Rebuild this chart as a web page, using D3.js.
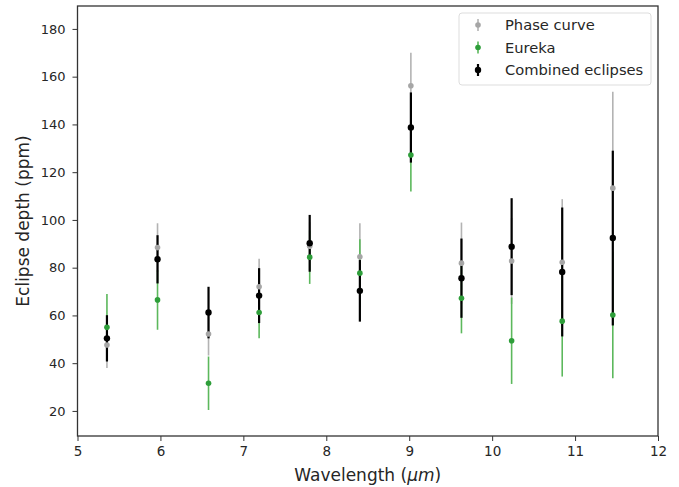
<!DOCTYPE html>
<html>
<head>
<meta charset="utf-8">
<script src="https://cdn.jsdelivr.net/npm/d3@7"></script>
<style>
  body { margin: 0; background: #fff; }
  text { font-family: "DejaVu Sans", sans-serif; fill: #262626; }
</style>
</head>
<body>
<svg class="chart" width="679" height="487"></svg>
<script>
// wavelengths (um)
const wavelength = [5.355, 5.965, 6.58, 7.19, 7.80, 8.405, 9.02, 9.63, 10.235, 10.845, 11.455];

// phase curve
const phaseVal = [47.6, 88.4, 52.2, 72.0, 89.0, 84.6, 156.2, 81.9, 82.8, 82.3, 113.3];
const phaseErr = [9.6, 10.2, 9.0, 11.7, 10.0, 14.0, 13.8, 17.0, 18.0, 26.4, 40.4];

// Eureka
const eurekaVal = [55.0, 66.5, 31.6, 61.2, 84.4, 77.7, 127.2, 67.2, 49.4, 57.6, 60.2];
const eurekaErr = [14.0, 12.5, 11.2, 10.8, 11.2, 14.2, 15.3, 14.7, 18.1, 23.2, 26.5];

// combined eclipses
const combVal = [50.4, 83.5, 61.2, 68.3, 90.2, 70.3, 138.7, 75.6, 88.8, 78.2, 92.4];
const combErr = [9.7, 10.1, 10.8, 11.5, 11.9, 12.9, 14.7, 16.6, 20.3, 27.0, 36.6];

const xTicks = [5, 6, 7, 8, 9, 10, 11, 12];
const yTicks = [20, 40, 60, 80, 100, 120, 140, 160, 180];

const series = [
  {name: "Phase curve", vals: phaseVal, errs: phaseErr, color: "#b3b3b3", dot: "#a6a6a6", lw: 1.6, r: 2.8},
  {name: "Eureka", vals: eurekaVal, errs: eurekaErr, color: "#5cb85c", dot: "#2e9e3a", lw: 1.6, r: 2.8},
  {name: "Combined eclipses", vals: combVal, errs: combErr, color: "#000", dot: "#000", lw: 2.2, r: 3.2}
];

let svg = d3.select(".chart");
const mLeft = 77.5, mRight = 658, mTop = 6, mBottom = 436;

let x = d3.scaleLinear().domain([5, 12]).range([mLeft, mRight]);
let y = d3.scaleLinear().domain([9.5, 189.6]).range([mBottom, mTop]);

// axes
svg.append("g")
  .attr("transform", `translate(0,${mBottom})`)
  .call(d3.axisBottom(x).tickValues(xTicks).tickFormat(d3.format("d")).tickSize(5).tickPadding(5))
  .call(g => g.select(".domain").remove())
  .call(g => g.selectAll("line").attr("stroke", "#333"))
  .call(g => g.selectAll("text").style("font-size", "13.5px").attr("fill", "#262626"));

svg.append("g")
  .attr("transform", `translate(${mLeft},0)`)
  .call(d3.axisLeft(y).tickValues(yTicks).tickSize(5).tickPadding(7))
  .call(g => g.select(".domain").remove())
  .call(g => g.selectAll("line").attr("stroke", "#333"))
  .call(g => g.selectAll("text").style("font-size", "13px").attr("fill", "#262626"));

// frame
svg.append("rect")
  .attr("x", mLeft).attr("y", mTop)
  .attr("width", mRight - mLeft).attr("height", mBottom - mTop)
  .attr("fill", "none").attr("stroke", "#333").attr("stroke-width", 1.3);

// error bars first (all series), markers after
series.forEach(s => {
  svg.append("g").selectAll("line")
    .data(wavelength)
    .enter().append("line")
    .attr("x1", d => x(d)).attr("x2", d => x(d))
    .attr("y1", (d, i) => y(s.vals[i] - s.errs[i]))
    .attr("y2", (d, i) => y(s.vals[i] + s.errs[i]))
    .attr("stroke", s.color)
    .attr("stroke-width", s.lw);
});
series.forEach(s => {
  svg.append("g").selectAll("circle")
    .data(wavelength)
    .enter().append("circle")
    .attr("cx", d => x(d))
    .attr("cy", (d, i) => y(s.vals[i]))
    .attr("r", s.r)
    .attr("fill", s.dot);
});

// labels
svg.append("text")
  .attr("x", (mLeft + mRight) / 2).attr("y", 481)
  .attr("text-anchor", "middle")
  .style("font-size", "17px")
  .html('Wavelength (<tspan font-style="italic">μm</tspan>)');

svg.append("text")
  .attr("transform", `translate(29,${(mTop + mBottom) / 2}) rotate(-90)`)
  .attr("text-anchor", "middle")
  .style("font-size", "17px")
  .text("Eclipse depth (ppm)");

// legend
let legend = svg.append("g");
legend.append("rect")
  .attr("x", 459).attr("y", 13).attr("width", 192).attr("height", 72)
  .attr("rx", 3)
  .attr("fill", "#fff").attr("stroke", "#ddd");
series.forEach((s, i) => {
  const ly = 25 + i * 22.5;
  legend.append("line")
    .attr("x1", 478).attr("x2", 478)
    .attr("y1", ly - 6).attr("y2", ly + 6)
    .attr("stroke", s.color).attr("stroke-width", s.lw);
  legend.append("circle")
    .attr("cx", 478).attr("cy", ly).attr("r", s.r)
    .attr("fill", s.dot);
  legend.append("text")
    .attr("x", 505).attr("y", ly)
    .attr("dy", "0.35em")
    .style("font-size", "14.7px")
    .text(s.name);
});
</script>
</body>
</html>
